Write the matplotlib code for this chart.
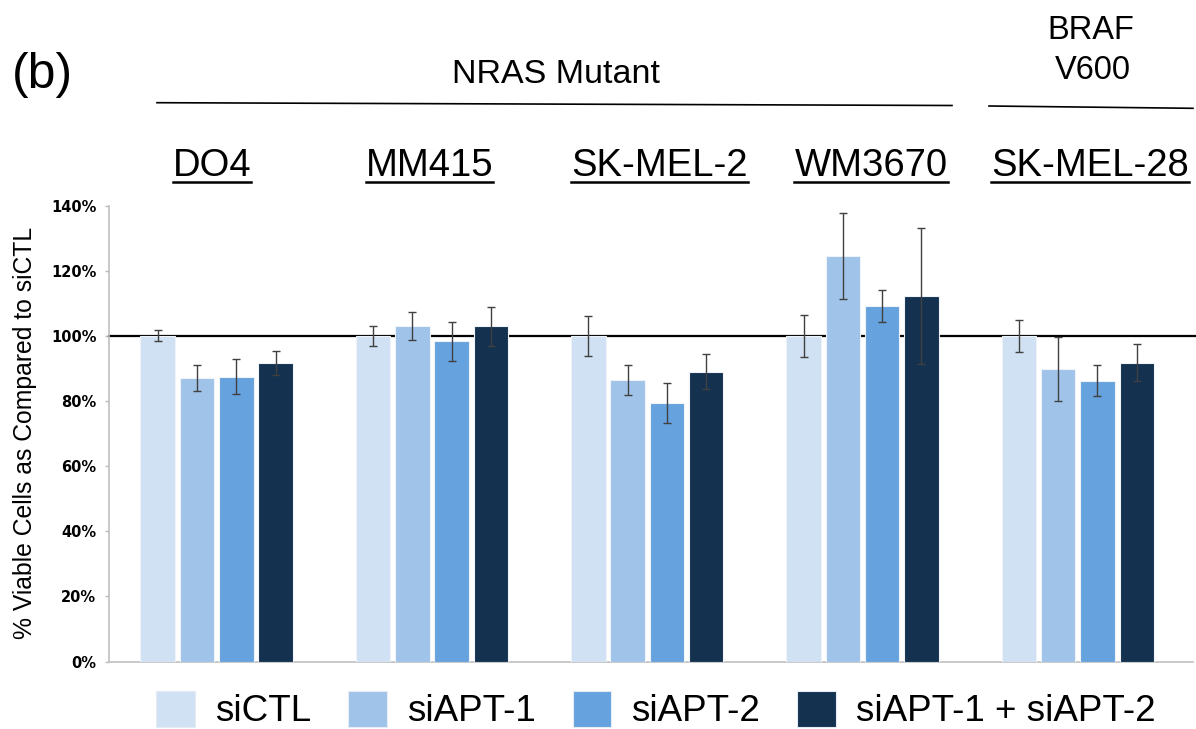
import numpy as np
import matplotlib
matplotlib.use("Agg")
import matplotlib.pyplot as plt
from matplotlib.lines import Line2D
from matplotlib.patches import Patch
from matplotlib.ticker import FuncFormatter

plt.rcParams['font.family'] = ['Liberation Sans', 'DejaVu Sans']

# data (% viable cells vs siCTL)
cell_lines = ["DO4", "MM415", "SK-MEL-2", "WM3670", "SK-MEL-28"]
series = ["siCTL", "siAPT-1", "siAPT-2", "siAPT-1 + siAPT-2"]
sictl = [100, 100, 100, 100, 100]
sictl_err = [1.7, 3.1, 6.1, 6.5, 5.0]
siapt1 = [87.2, 103.1, 86.4, 124.6, 89.9]
siapt1_err = [4.0, 4.4, 4.6, 13.2, 9.8]
siapt2 = [87.5, 98.3, 79.5, 109.2, 86.3]
siapt2_err = [5.3, 6.0, 6.1, 5.0, 4.7]
combo = [91.6, 103.0, 89.0, 112.3, 91.8]
combo_err = [3.7, 6.0, 5.3, 20.8, 5.7]
yticks = [0, 20, 40, 60, 80, 100, 120, 140]

colors = ["#D0E1F3", "#A0C3EA", "#66A2DE", "#14314F"]

W, H = 1196, 729
fig = plt.figure(figsize=(W / 100, H / 100), dpi=100)


def fx(x):
    return x / W


def fy(y):
    return 1 - y / H


ax = fig.add_axes([fx(109), fy(661.5), fx(1193) - fx(109), fy(205.7) - fy(661.5)])

x = np.arange(len(cell_lines))
step = 0.1825
width = 0.16
vals = [sictl, siapt1, siapt2, combo]
errs = [sictl_err, siapt1_err, siapt2_err, combo_err]
for i in range(4):
    pos = x + (i - 1.5) * step
    ax.bar(pos, vals[i], width, color=colors[i], edgecolor="#eef3fa", linewidth=0.8, zorder=3)
    ax.errorbar(pos, vals[i], yerr=errs[i], fmt="none", ecolor="#404040",
                elinewidth=1.0, capsize=3, capthick=1.0, zorder=4)

ax.axhline(100, xmin=0, xmax=1.003, color="black", lw=1.6, zorder=2, clip_on=False)

ax.set_xlim(-0.5, 4.535)
ax.set_ylim(0, 140)
ax.set_yticks(yticks)
ax.yaxis.set_major_formatter(FuncFormatter(lambda v, p: "%d%%" % v))
for lab in ax.get_yticklabels():
    lab.set_fontweight("bold")
    lab.set_fontsize(10.5)
    lab.set_family("DejaVu Sans")
ax.tick_params(axis="y", length=3, width=1, color="#bbbbbb", pad=6)
ax.set_xticks([])
for s in ["top", "right"]:
    ax.spines[s].set_visible(False)
for s in ["left", "bottom"]:
    ax.spines[s].set_color("#c0c0c0")
    ax.spines[s].set_linewidth(1.2)

fig.text(fx(25), fy(433), "% Viable Cells as Compared to siCTL", rotation=90,
         ha="center", va="center", fontsize=17.8)

# header texts
fig.text(fx(42), fy(75), "(b)", ha="center", va="center", fontsize=36)
fig.text(fx(556), fy(83), "NRAS Mutant", ha="center", va="baseline", fontsize=24.5)
fig.text(fx(1091), fy(39), "BRAF", ha="center", va="baseline", fontsize=23.5)
fig.text(fx(1093), fy(79), "V600", ha="center", va="baseline", fontsize=23.5)
fig.add_artist(Line2D([fx(157), fx(952)], [fy(102.7), fy(105.5)], color="black", lw=1.2))
fig.add_artist(Line2D([fx(989), fx(1193)], [fy(106), fy(108.3)], color="black", lw=1.2))

label_x = [212, 429.5, 659.5, 871, 1090]
titles = []
for name, lx in zip(cell_lines, label_x):
    t = fig.text(fx(lx), fy(176), name, ha="center", va="baseline", fontsize=27.5)
    titles.append(t)

fig.canvas.draw()
r = fig.canvas.get_renderer()
for t in titles:
    bb = t.get_window_extent(r)
    fig.add_artist(Line2D([bb.x0 / W, bb.x1 / W], [fy(181.7), fy(181.7)], color="black", lw=1.8))

handles = [Patch(facecolor=c, edgecolor="#e4ecf6", lw=0.8) for c in colors]
fig.legend(handles, series, ncol=4, loc="center", bbox_to_anchor=(fx(656), fy(710)),
           frameon=False, fontsize=26.5, handlelength=1.05, handleheight=1.15,
           handletextpad=0.55, columnspacing=1.0, borderpad=0, borderaxespad=0)

fig.savefig("out.png", dpi=100)
